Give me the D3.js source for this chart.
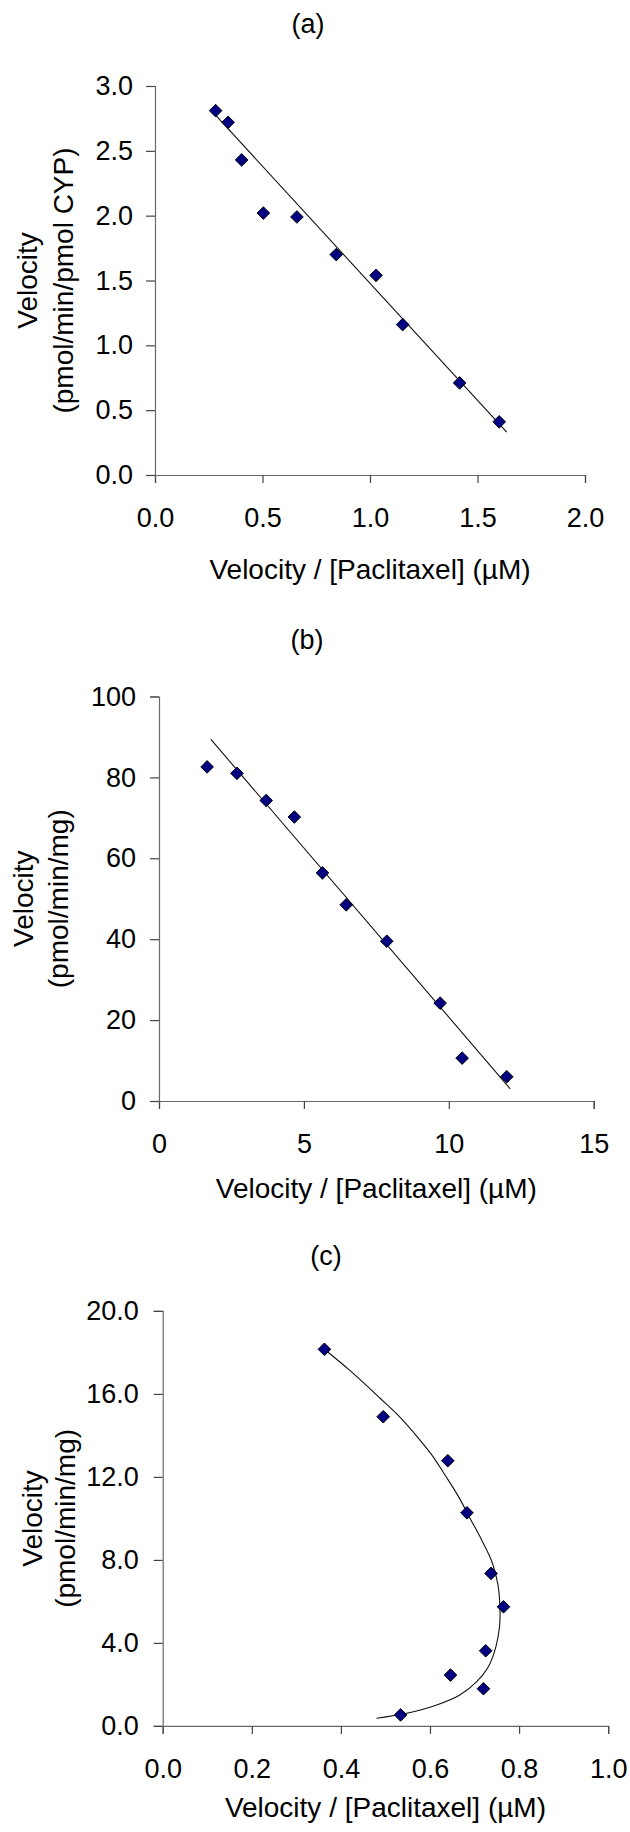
<!DOCTYPE html>
<html>
<head>
<meta charset="utf-8">
<script src="https://cdn.jsdelivr.net/npm/d3@7"></script>
<style>
  body { margin: 0; background: #fff; }
  svg { display: block; }
  text { font-family: Arial, 'Liberation Sans', sans-serif; fill: #000; }
</style>
</head>
<body>
<svg width="630" height="1832"></svg>
<script>
'use strict';

// (a) recombinant CYP
const aX = [0.282, 0.340, 0.403, 0.504, 0.660, 0.843, 1.028, 1.152, 1.417, 1.601]
const aY = [2.81, 2.72, 2.43, 2.02, 1.99, 1.70, 1.54, 1.16, 0.71, 0.41]
const aFitX = [0.268, 1.636]
const aFitY = [2.80, 0.33]
const aTicksX = [0, 0.5, 1.0, 1.5, 2.0]
const aTicksY = [0, 0.5, 1.0, 1.5, 2.0, 2.5, 3.0]

// (b)
const bX = [1.66, 2.69, 3.70, 4.67, 5.64, 6.46, 7.86, 9.70, 10.46, 12.00]
const bY = [82.6, 81.0, 74.3, 70.2, 56.4, 48.5, 39.5, 24.2, 10.6, 6.0]
const bFitX = [1.79, 12.12]
const bFitY = [89.4, 3.0]
const bTicksX = [0, 5, 10, 15]
const bTicksY = [0, 20, 40, 60, 80, 100]

// (c)
const cX = [0.363, 0.495, 0.640, 0.683, 0.737, 0.765, 0.725, 0.646, 0.720, 0.534]
const cY = [18.15, 14.90, 12.78, 10.27, 7.35, 5.74, 3.62, 2.45, 1.79, 0.53]
const cFitX = [0.363, 0.420, 0.488, 0.533, 0.570, 0.604, 0.634, 0.664, 0.690, 0.716,
  0.739, 0.752, 0.757, 0.756, 0.748, 0.731, 0.705, 0.667, 0.615, 0.548, 0.480]
const cFitY = [18.15, 17.13, 15.79, 14.87, 13.97, 13.06, 12.08, 11.05, 10.00, 8.96,
  7.91, 6.87, 5.74, 4.78, 3.82, 2.85, 2.13, 1.49, 1.01, 0.61, 0.37]
const cTicksX = [0, 0.2, 0.4, 0.6, 0.8, 1.0]
const cTicksY = [0, 4, 8, 12, 16, 20]

const xTitle = 'Velocity / [Paclitaxel] (µM)'

const panels = [
  { letter: '(a)', x: aX, y: aY, fitX: aFitX, fitY: aFitY, ticksX: aTicksX, ticksY: aTicksY,
    domX: [0, 2], domY: [0, 3], fmtX: '.1f', fmtY: '.1f', units: '(pmol/min/pmol CYP)',
    rangeX: [155, 585], rangeY: [475, 86], titlePos: [308, 24], labelX: [37, 73], yPad: 13,
    xTitleOff: 94, curve: d3.curveLinear },
  { letter: '(b)', x: bX, y: bY, fitX: bFitX, fitY: bFitY, ticksX: bTicksX, ticksY: bTicksY,
    domX: [0, 15], domY: [0, 100], fmtX: 'd', fmtY: 'd', units: '(pmol/min/mg)',
    rangeX: [159, 593.7], rangeY: [1101, 696.5], titlePos: [307, 640], labelX: [33, 68], yPad: 14,
    xTitleOff: 87, curve: d3.curveLinear },
  { letter: '(c)', x: cX, y: cY, fitX: cFitX, fitY: cFitY, ticksX: cTicksX, ticksY: cTicksY,
    domX: [0, 1], domY: [0, 20], fmtX: '.1f', fmtY: '.1f', units: '(pmol/min/mg)',
    rangeX: [162.7, 608.2], rangeY: [1725.9, 1310.9], titlePos: [326, 1256], labelX: [42, 75], yPad: 15,
    xTitleOff: 81, curve: d3.curveCatmullRom.alpha(0.5) }
]

const svg = d3.select('svg')
const diamond = d3.symbol().type(d3.symbolSquare).size(80)

panels.forEach((p) => {
  const x = d3.scaleLinear().domain(p.domX).range(p.rangeX)
  const y = d3.scaleLinear().domain(p.domY).range(p.rangeY)
  const g = svg.append('g')

  // axes
  const gx = g.append('g')
    .attr('transform', `translate(0,${p.rangeY[0]})`)
    .call(d3.axisBottom(x).tickValues(p.ticksX).tickFormat(d3.format(p.fmtX))
      .tickSize(8).tickPadding(25))
  const gy = g.append('g')
    .attr('transform', `translate(${p.rangeX[0]},0)`)
    .call(d3.axisLeft(y).tickValues(p.ticksY).tickFormat(d3.format(p.fmtY))
      .tickSize(9).tickPadding(p.yPad))
  ;[gx, gy].forEach((ax) => {
    ax.select('.domain').attr('stroke', '#6a6a6a').attr('stroke-width', 1.2)
    ax.selectAll('.tick line').attr('stroke', '#444').attr('stroke-width', 1.2)
    ax.selectAll('.tick text').attr('font-size', 27).attr('fill', '#000')
      .style('font-family', "Arial, 'Liberation Sans', sans-serif")
  })

  // fitted line / curve
  const line = d3.line()
    .x((d) => x(d[0]))
    .y((d) => y(d[1]))
    .curve(p.curve)
  g.append('path')
    .datum(d3.zip(p.fitX, p.fitY))
    .attr('d', line)
    .attr('fill', 'none')
    .attr('stroke', '#111')
    .attr('stroke-width', 1.1)

  // data points
  g.selectAll('path.pt')
    .data(d3.zip(p.x, p.y))
    .enter()
    .append('path')
    .attr('class', 'pt')
    .attr('d', diamond)
    .attr('transform', (d) => `translate(${x(d[0])},${y(d[1])}) rotate(45)`)
    .attr('fill', '#000080')
    .attr('stroke', '#000')
    .attr('stroke-width', 0.9)

  // panel letter
  g.append('text')
    .attr('x', p.titlePos[0])
    .attr('y', p.titlePos[1])
    .attr('dy', '0.35em')
    .attr('text-anchor', 'middle')
    .attr('font-size', 27)
    .text(p.letter)

  // x title
  g.append('text')
    .attr('x', (p.rangeX[0] + p.rangeX[1]) / 2)
    .attr('y', p.rangeY[0] + p.xTitleOff)
    .attr('dy', '0.35em')
    .attr('text-anchor', 'middle')
    .attr('font-size', 28)
    .text(xTitle)

  // y title, two lines
  const cy = (p.rangeY[0] + p.rangeY[1]) / 2
  ;['Velocity', p.units].forEach((t, i) => {
    g.append('text')
      .attr('transform', `translate(${p.labelX[i]},${cy}) rotate(-90)`)
      .attr('text-anchor', 'middle')
      .attr('font-size', 28)
      .text(t)
  })
})
</script>
</body>
</html>
